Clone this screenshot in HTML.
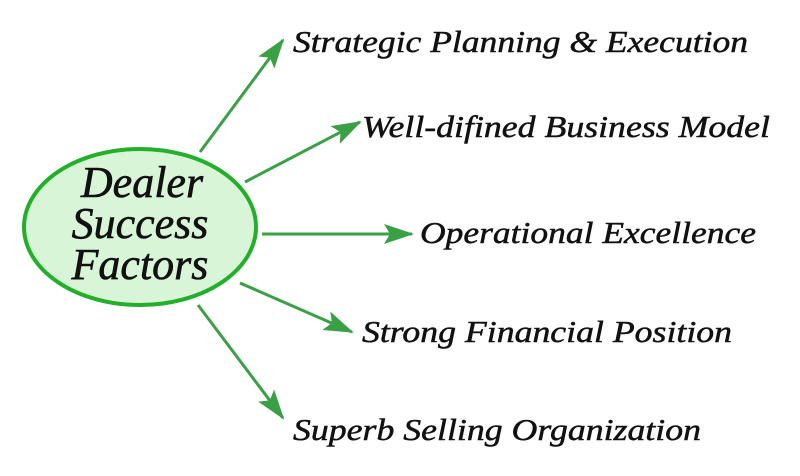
<!DOCTYPE html>
<html><head><style>body{margin:0;background:#fff}svg{display:block}
.t{font-family:"Liberation Serif","Times New Roman",serif;font-style:italic}</style></head><body>
<svg width="800" height="476" xmlns="http://www.w3.org/2000/svg">
<defs>
<marker id="b" viewBox="0 0 30 20" refX="28" refY="10" markerWidth="30" markerHeight="20" orient="auto" markerUnits="userSpaceOnUse"><path d="M0,0 L30,10 L0,20 L6,10z" fill="#3aa046"/></marker></defs>
<ellipse cx="140" cy="227" rx="116" ry="78" fill="#d9f5d7" stroke="#22b02a" stroke-width="4"/>
<g class="t" fill="#111" text-anchor="middle" font-size="44" stroke="#111" stroke-width="0.6">
<text x="142" y="197">Dealer</text><text x="140" y="238">Success</text><text x="140" y="279">Factors</text></g>
<g stroke="#3aa046" stroke-width="3" marker-end="url(#b)">
<line x1="200" y1="152" x2="283" y2="40"/>
<line x1="245" y1="182" x2="360" y2="122"/>
<line x1="262" y1="234" x2="412" y2="234"/>
<line x1="240" y1="283" x2="352" y2="332"/>
<line x1="198" y1="305" x2="283" y2="418"/>
</g>
<g class="t" fill="#111" font-size="31" stroke="#111" stroke-width="0.5">
<text x="293" y="52" textLength="455" lengthAdjust="spacingAndGlyphs">Strategic Planning &amp; Execution</text>
<text x="362" y="137" textLength="408" lengthAdjust="spacingAndGlyphs">Well-difined Business Model</text>
<text x="420" y="243" textLength="336" lengthAdjust="spacingAndGlyphs">Operational Excellence</text>
<text x="362" y="342" textLength="370" lengthAdjust="spacingAndGlyphs">Strong Financial Position</text>
<text x="293" y="440" textLength="408" lengthAdjust="spacingAndGlyphs">Superb Selling Organization</text>
</g>
</svg>
</body></html>
